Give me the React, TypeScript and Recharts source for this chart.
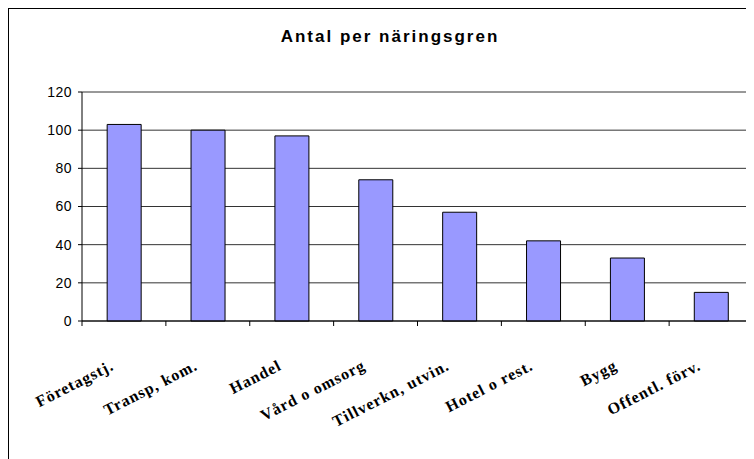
import { BarChart, Bar, XAxis, YAxis, CartesianGrid } from "recharts";

const categories = [
  "Företagstj.",
  "Transp, kom.",
  "Handel",
  "Vård o omsorg",
  "Tillverkn, utvin.",
  "Hotel o rest.",
  "Bygg",
  "Offentl. förv.",
];
const values = [103, 100, 97, 74, 57, 42, 33, 15];
const yTicks = [0, 20, 40, 60, 80, 100, 120];

const chartData = categories.map((name, i) => ({ name, value: values[i] }));

// Rotated serif labels; tick marks sit on the category boundaries
const CategoryTick = ({ x, y, payload, index, width, visibleTicksCount }: any) => {
  const half = width / visibleTicksCount / 2;
  const lx = x - 9;
  const ly = y + 48;
  return (
    <g>
      <line x1={x - half} x2={x - half} y1={y} y2={y + 5} stroke="#000" />
      {index === visibleTicksCount - 1 && (
        <line x1={x + half} x2={x + half} y1={y} y2={y + 5} stroke="#000" />
      )}
      <text
        x={lx}
        y={ly}
        transform={`rotate(-27, ${lx}, ${ly})`}
        textAnchor="end"
        fontFamily="'Liberation Serif', 'Times New Roman', serif"
        fontWeight="bold"
        fontSize={16}
        letterSpacing={1}
        fill="#000"
      >
        {payload.value}
      </text>
    </g>
  );
};

export default function App() {
  return (
    <div
      style={{
        position: "relative",
        width: 746,
        height: 451,
        borderLeft: "1px solid #000",
        borderTop: "1px solid #000",
        boxSizing: "border-box",
        background: "#fff",
        overflow: "hidden",
      }}
    >
      <div
        style={{
          position: "absolute",
          left: 0,
          top: 19,
          width: 762,
          textAlign: "center",
          fontFamily: "'Liberation Sans', Arial, sans-serif",
          fontWeight: "bold",
          fontSize: 17,
          lineHeight: "17px",
          letterSpacing: 2,
          color: "#000",
        }}
      >
        Antal per näringsgren
      </div>
      <BarChart
        width={745}
        height={450}
        data={chartData}
        margin={{ top: 83, right: 1, left: 0, bottom: 0 }}
        barCategoryGap="30%"
      >
        <CartesianGrid vertical={false} stroke="#333" />
        <CartesianGrid
          horizontal={false}
          stroke="#999"
          verticalCoordinatesGenerator={({ offset }: any) => [offset.left + offset.width]}
        />
        <XAxis
          dataKey="name"
          interval={0}
          axisLine={{ stroke: "#000" }}
          tickLine={false}
          tickSize={0}
          tickMargin={0}
          height={138}
          tick={<CategoryTick />}
        />
        <YAxis
          domain={[0, 120]}
          ticks={yTicks}
          width={73}
          tickSize={4}
          tickMargin={6}
          axisLine={{ stroke: "#000" }}
          tickLine={{ stroke: "#000" }}
          tick={{
            fill: "#000",
            fontSize: 14,
            fontFamily: "'Liberation Sans', Arial, sans-serif",
            letterSpacing: 0.5,
          }}
        />
        <Bar dataKey="value" fill="#9999FF" stroke="#000" strokeWidth={1} isAnimationActive={false} />
      </BarChart>
    </div>
  );
}
